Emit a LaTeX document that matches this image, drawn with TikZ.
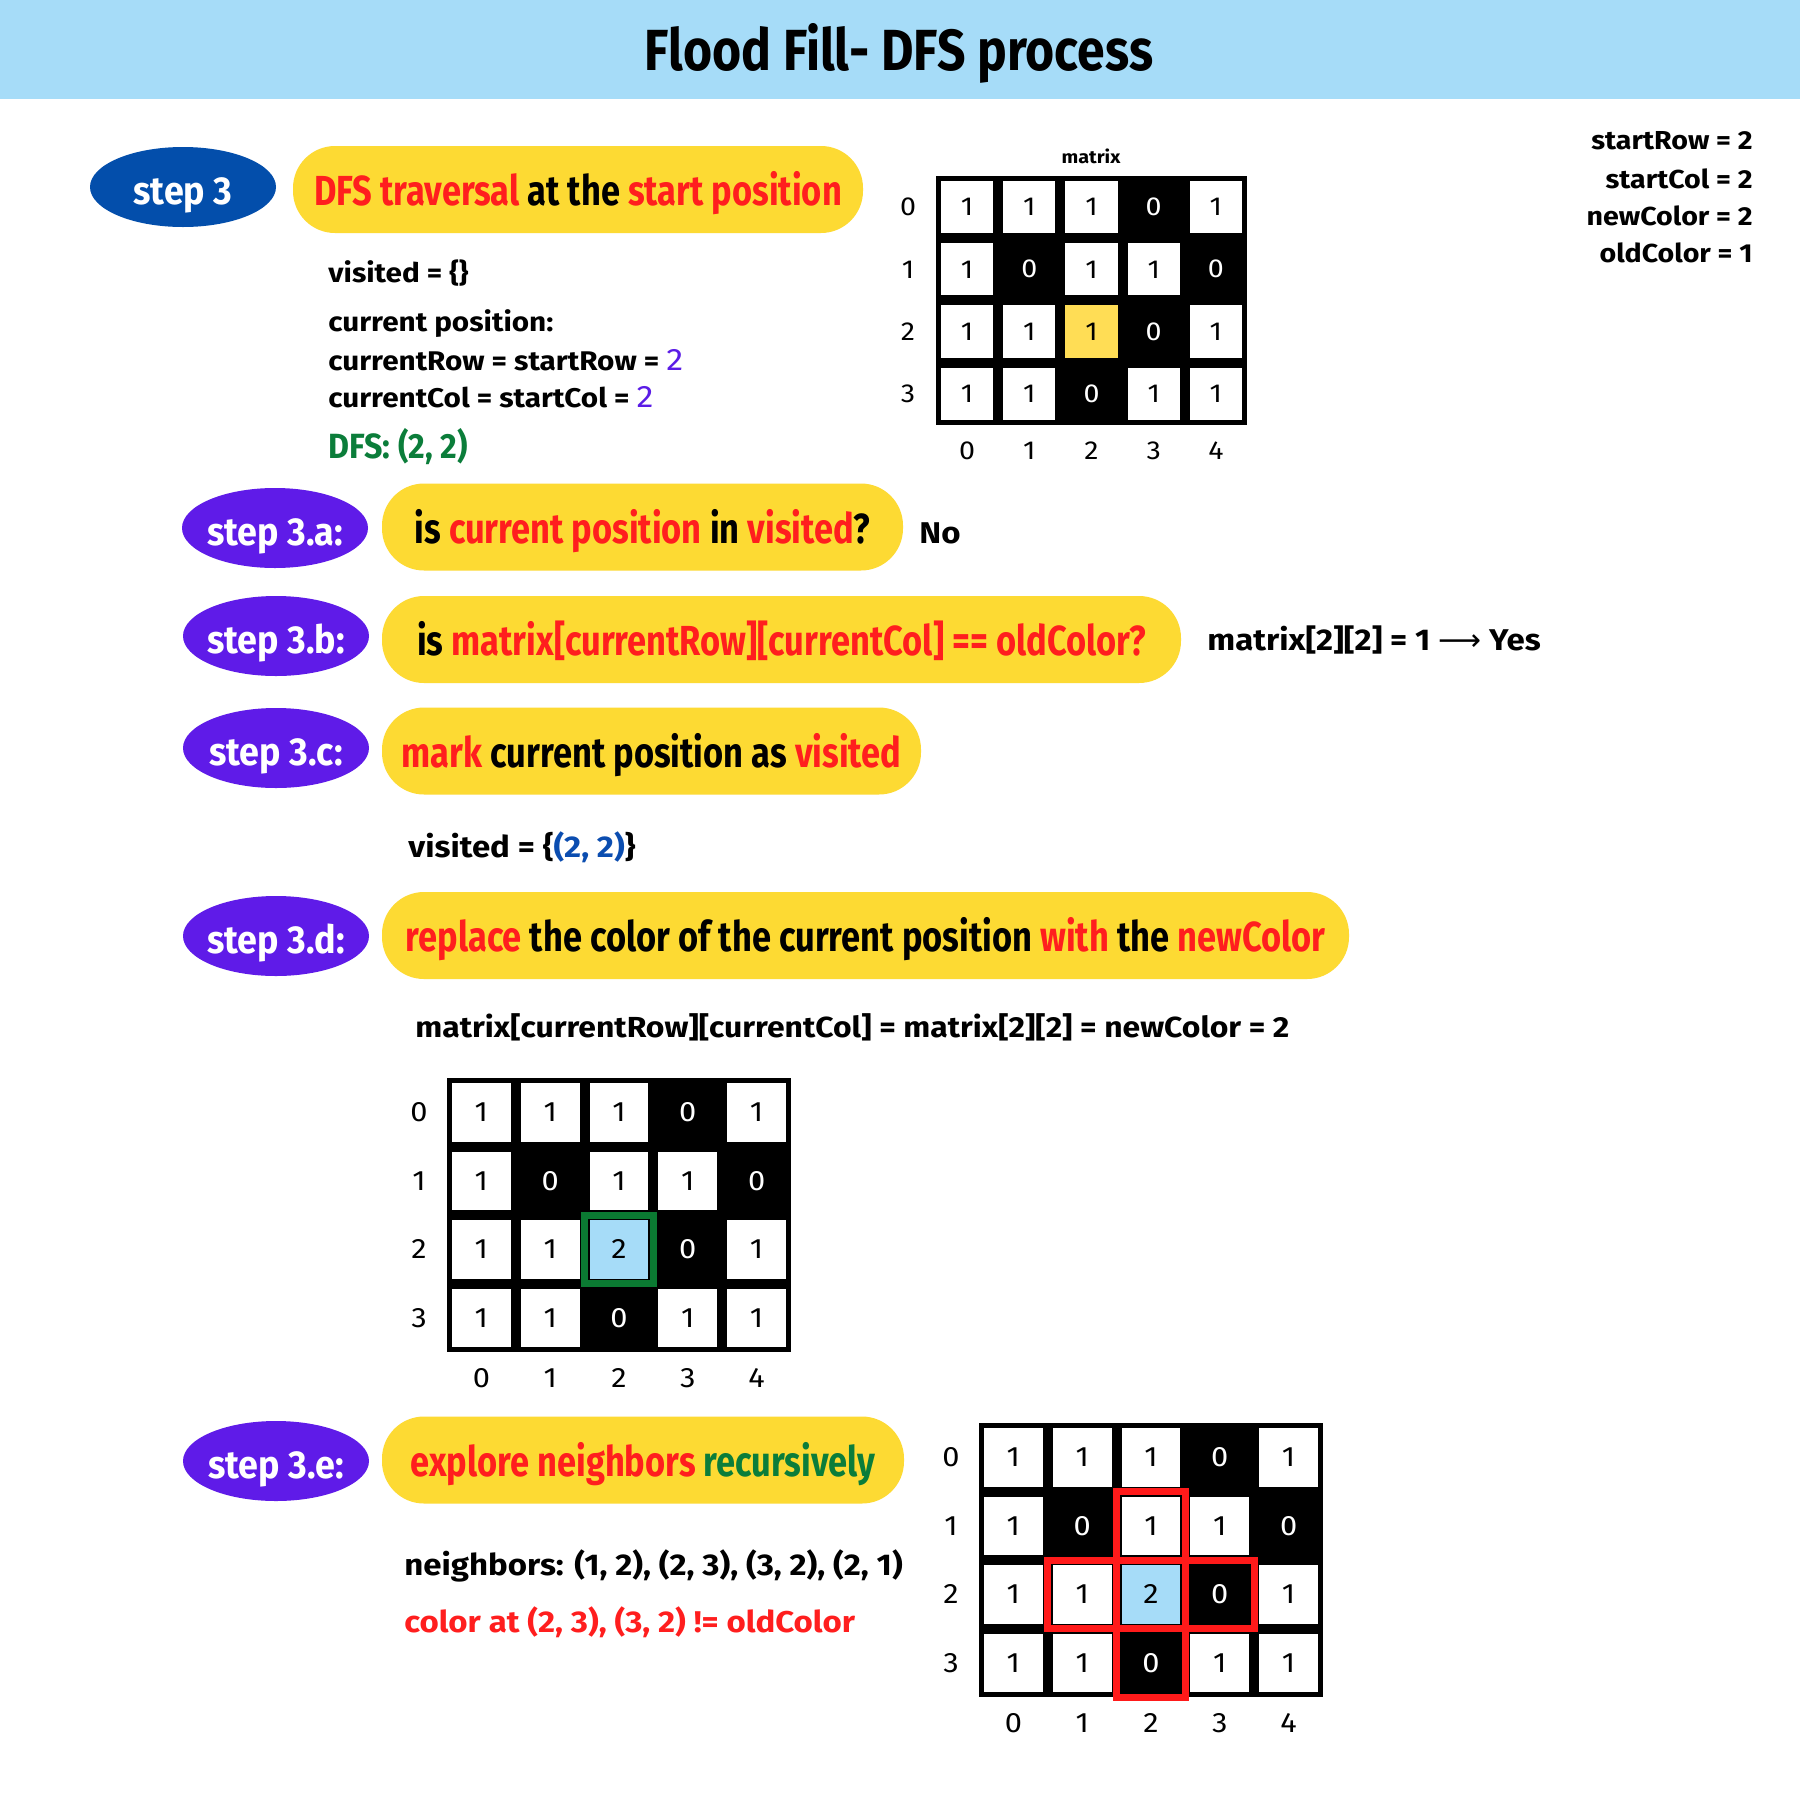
\documentclass[tikz,border=0pt]{standalone}
\usepackage{fontspec}
\setmainfont{Fira Sans}
\newfontfamily\bodyfont{Fira Sans}[FakeStretch=1.1]
\newfontfamily\pillfont{Fira Sans}[FakeStretch=0.82]
\newfontfamily\condfont{Fira Sans}[FakeStretch=0.92]
\newfontfamily\titlefont{Fira Sans}[FakeStretch=0.86]
\newfontfamily\symfont{DejaVu Sans}
\usetikzlibrary{shapes.geometric}

\definecolor{bandblue}{HTML}{A6DCF8}
\definecolor{stepblue}{HTML}{034EAB}
\definecolor{steppurple}{HTML}{5F1BE8}
\definecolor{pillyellow}{HTML}{FDDA33}
\definecolor{txtred}{HTML}{FF1E1E}
\definecolor{txtgreen}{HTML}{0B7D3A}
\definecolor{txtpurple}{HTML}{5B1CE6}
\definecolor{txtblue}{HTML}{0B4DB0}
\definecolor{hiyellow}{HTML}{FFDD55}
\definecolor{hiblue}{HTML}{A6DCF8}
\definecolor{bordergreen}{HTML}{0B7A32}
\definecolor{borderred}{HTML}{FF1A1A}

\tikzset{
  titletext/.style={anchor=base, inner sep=0pt, font=\titlefont\bfseries\fontsize{29pt}{32pt}\selectfont},
  stepnode/.style={ellipse, fill=#1, text=white, inner xsep=-8pt, inner ysep=0pt, minimum width=93pt, minimum height=40pt,
     text height=17pt, text depth=0pt, font=\condfont\bfseries\fontsize{19.5pt}{22pt}\selectfont},
  pillnode/.style={rounded corners=21pt, fill=pillyellow, inner sep=0pt, minimum height=43.5pt,
     text height=16pt, text depth=0pt, font=\pillfont\bfseries\fontsize{21pt}{24pt}\selectfont},
  bodytext/.style={anchor=base west, inner sep=0pt, font=\bodyfont\bfseries\fontsize{13.5pt}{16pt}\selectfont},
  bigbody/.style={anchor=base west, inner sep=0pt, font=\bodyfont\bfseries\fontsize{15pt}{18pt}\selectfont},
  condtext/.style={anchor=base west, inner sep=0pt, font=\condfont\bfseries\fontsize{17.5pt}{21pt}\selectfont},
  paramtext/.style={anchor=base east, inner sep=0pt, font=\bodyfont\bfseries\fontsize{13pt}{15pt}\selectfont},
  cellbox/.style={inner sep=0pt, font=\bodyfont\gridsize},
  zerocell/.style={inner sep=0pt, text=white, font=\bodyfont\gridsize},
  axislabel/.style={inner sep=0pt, font=\bodyfont\gridsize},
  greenframe/.style={draw=bordergreen, line width=3.5pt},
  redframe/.style={draw=borderred, line width=3.5pt},
}
\newcommand{\gridsize}{\fontsize{13pt}{15pt}\selectfont}
\newcommand{\matgrid}[7]{%
  \fill[black] (#2,#3) rectangle ++(5*#4,4*#5);
  \foreach \rr/\rowvals in {0/{1,1,1,0,1},1/{1,0,1,1,0},2/{1,1,1,0,1},3/{1,1,0,1,1}}{
    \foreach \vv [count=\cc from 0] in \rowvals {
      \pgfmathsetmacro{\cx}{#2+(\cc+0.5)*#4}
      \pgfmathsetmacro{\cy}{#3+(\rr+0.5)*#5}
      \ifnum\rr=2 \ifnum\cc=2 \def\kind{c}\else\def\kind{\vv}\fi\else\def\kind{\vv}\fi
      \if c\kind
        \node[cellbox, fill=#6, minimum width={(#4-10)*0.5pt}, minimum height={(#5-10)*0.5pt}] (#1-\rr-\cc) at (\cx,\cy) {#7};
      \else\ifnum\vv=1
        \node[cellbox, fill=white, minimum width={(#4-10)*0.5pt}, minimum height={(#5-10)*0.5pt}] (#1-\rr-\cc) at (\cx,\cy) {1};
      \else
        \node[zerocell] (#1-\rr-\cc) at (\cx,\cy) {0};
      \fi\fi
    }
  }
  \foreach \cc in {0,...,4} \node[axislabel] (#1-col\cc) at ({#2+(\cc+0.5)*#4},{#3+4*#5+26}) {\cc};
  \foreach \rr in {0,...,3} \node[axislabel] (#1-row\rr) at ({#2-28},{#3+(\rr+0.5)*#5}) {\rr};
}

\begin{document}
\begin{tikzpicture}[x=0.5pt,y=-0.5pt]
\useasboundingbox (0,0) rectangle (1800,1800);
\fill[white] (0,0) rectangle (1800,1800);
\fill[bandblue] (0,0) rectangle (1800,99);
\node[titletext] (title) at (899,70) {Flood Fill- DFS process};

% parameters
\node[paramtext] (prow) at (1753,149) {startRow = 2};
\node[paramtext] (pcol) at (1753,188) {startCol = 2};
\node[paramtext] (pnew) at (1753,225) {newColor = 2};
\node[paramtext] (pold) at (1753,262) {oldColor = 1};

% step 3
\node[stepnode=stepblue] (s3) at (183,187) {step 3};
\node[pillnode, minimum width=285pt] (p3) at (578,189.5)
  {{\color{txtred}DFS traversal} at the {\color{txtred}start position}};
\node[bodytext] (t1) at (328,282) {visited = \{\}};
\node[bodytext] (t2) at (328,331) {current position:};
\node[bodytext] (t3) at (328,370) {currentRow = startRow = {\fontseries{m}\fontsize{15.5pt}{15pt}\selectfont\color{txtpurple}2}};
\node[bodytext] (t4) at (328,407) {currentCol = startCol = {\fontseries{m}\fontsize{15.5pt}{15pt}\selectfont\color{txtpurple}2}};
\node[condtext, text=txtgreen] (t5) at (328,458) {DFS: (2, 2)};

% matrix 1
\node[inner sep=0pt, font=\bodyfont\bfseries\fontsize{9pt}{10pt}\selectfont] (m1lab) at (1091,156) {matrix};
\renewcommand{\gridsize}{\fontsize{13pt}{15pt}\selectfont}
\matgrid{ga}{936}{176}{62.2}{62.2}{hiyellow}{1}

% step 3.a
\node[stepnode=steppurple] (s3a) at (275,528) {step 3.a:};
\node[pillnode, minimum width=260.5pt] (p3a) at (642.5,527)
  {is {\color{txtred}current position} in {\color{txtred}visited}?};
\node[bodytext, font=\bodyfont\bfseries\fontsize{15pt}{18pt}\selectfont] (no) at (919,543) {No};

% step 3.b
\node[stepnode=steppurple] (s3b) at (276,636) {step 3.b:};
\node[pillnode, minimum width=399.5pt] (p3b) at (781.5,639.5)
  {is {\color{txtred}matrix[currentRow][currentCol] == oldColor?}};
\node[bigbody] (yes) at (1207,650) {matrix[2][2] = 1 {\symfont\mdseries ⟶} Yes};

% step 3.c
\node[stepnode=steppurple] (s3c) at (276,748) {step 3.c:};
\node[pillnode, minimum width=269.5pt] (p3c) at (651.5,751)
  {{\color{txtred}mark} current position as {\color{txtred}visited}};
\node[bigbody] (t6) at (408,857) {visited = \{{\color{txtblue}(2, 2)}\}};

% step 3.d
\node[stepnode=steppurple] (s3d) at (276,936) {step 3.d:};
\node[pillnode, minimum width=483.5pt] (p3d) at (865.5,935.5)
  {{\color{txtred}replace} the color of the current position {\color{txtred}with} the {\color{txtred}newColor}};
\node[bodytext, font=\bodyfont\bfseries\fontsize{14.5pt}{17pt}\selectfont] (t7) at (415,1037) {matrix[currentRow][currentCol] = matrix[2][2] = newColor = 2};

% matrix 2
\renewcommand{\gridsize}{\fontsize{14pt}{16pt}\selectfont}
\matgrid{gb}{447}{1078}{68.8}{68.5}{hiblue}{2}
\draw[greenframe] (gb-2-2.center) ++(-34.4,-34.25) rectangle ++(68.8,68.5);

% step 3.e
\node[stepnode=steppurple] (s3e) at (276,1461) {step 3.e:};
\node[pillnode, minimum width=261pt] (p3e) at (643,1460)
  {{\color{txtred}explore neighbors} {\color{txtgreen}recursively}};
\node[bigbody] (t8) at (404,1575) {neighbors: (1, 2), (2, 3), (3, 2), (2, 1)};
\node[bigbody, text=txtred] (t9) at (404,1632) {color at (2, 3), (3, 2) != oldColor};

% matrix 3
\matgrid{gc}{979}{1423}{68.8}{68.5}{hiblue}{2}
\draw[redframe] (gc-1-2.center) ++(-34.4,-34.25) rectangle ++(68.8,68.5);
\draw[redframe] (gc-2-1.center) ++(-34.4,-34.25) rectangle ++(68.8,68.5);
\draw[redframe] (gc-2-3.center) ++(-34.4,-34.25) rectangle ++(68.8,68.5);
\draw[redframe] (gc-3-2.center) ++(-34.4,-34.25) rectangle ++(68.8,68.5);
\end{tikzpicture}
\end{document}
